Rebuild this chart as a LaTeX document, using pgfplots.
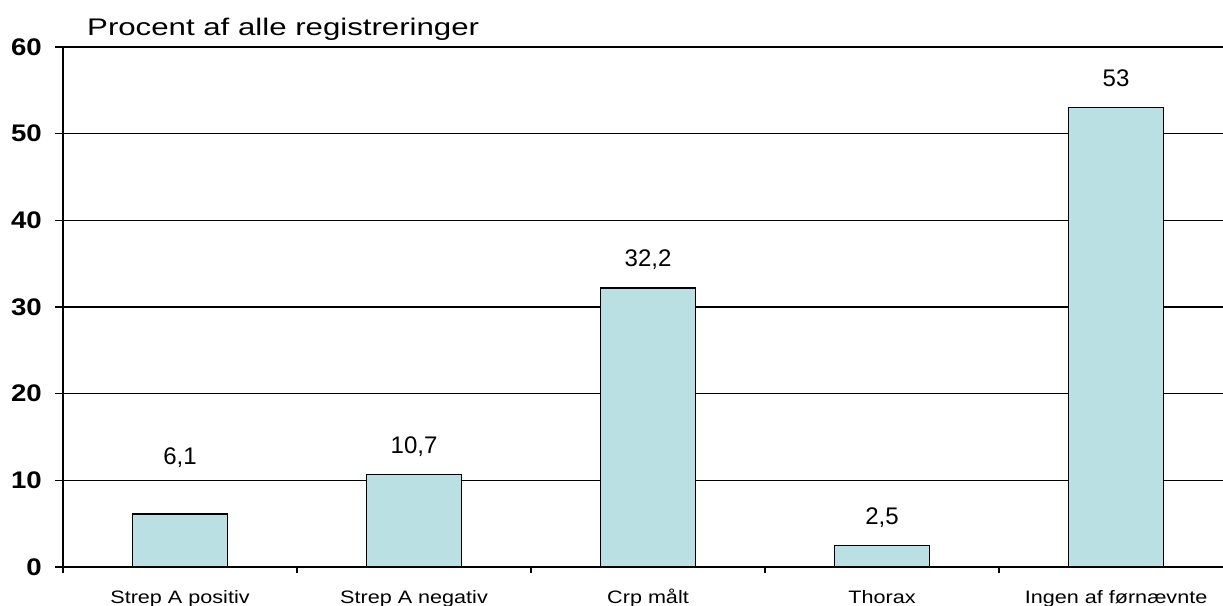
\documentclass[border=0pt]{standalone}
\usepackage{pgfplots}
\pgfplotsset{compat=1.18}
\usepackage{pgfplotstable}
\usepackage{graphicx}
\usepackage{fontspec}
\setmainfont{Liberation Sans}
\definecolor{barfill}{HTML}{BBE0E3}

\pgfplotstableread{
x y lab
0 6.1 {6,1}
1 10.7 {10,7}
2 32.2 {32,2}
3 2.5 {2,5}
4 53 {53}
}\datatable

\begin{document}
\begin{tikzpicture}
\path[use as bounding box] (-63pt,-38pt) rectangle (1160pt,567pt);
\begin{axis}[
  at={(0pt,0pt)}, anchor=south west,
  scale only axis, width=1160pt, height=520pt,
  xmin=-0.5, xmax=4.457, ymin=0, ymax=60,
  ytick={0,10,...,60},
  ymajorgrids, grid style={black, line width=1.4pt},
  axis x line*=bottom, axis y line*=left,
  axis line style={black, line width=1.6pt, -},
  tick align=outside,
  major tick length=8pt,
  ytick style={black, line width=1.4pt},
  xtick={0,...,4},
  xticklabels={
    {\scalebox{1.2}[1]{Strep A positiv}},
    {\scalebox{1.2}[1]{Strep A negativ}},
    {\scalebox{1.2}[1]{Crp målt}},
    {\scalebox{1.2}[1]{Thorax}},
    {\scalebox{1.2}[1]{Ingen af førnævnte}}},
  xtick style={draw=none},
  extra x ticks={-0.5,0.5,1.5,2.5,3.5},
  extra x tick labels={},
  extra x tick style={xtick style={draw=black, line width=1.4pt}, major tick length=6pt},
  xticklabel style={font=\fontsize{18}{18}\selectfont, anchor=north, inner sep=0pt,
    text height=13pt, text depth=4pt, yshift=-15pt},
  /pgf/number format/assume math mode=true,
  yticklabel={\fontsize{24}{24}\selectfont\bfseries\scalebox{1.15}[1]{\pgfmathprintnumber{\tick}}},
  yticklabel style={anchor=east, inner sep=0pt, xshift=-13pt},
  clip=false,
]
\addplot[ybar, bar width=0.406, fill=barfill, draw=black, line width=1.4pt,
  nodes near coords, point meta=explicit symbolic,
  every node near coord/.append style={anchor=base, inner sep=0pt,
    yshift=21pt, font=\fontsize{24}{24}\selectfont, text=black},
  coordinate style/.condition={\coordindex==0}{yshift=29pt}]
  table[x=x, y=y, meta=lab]{\datatable};
\node[anchor=base west, inner sep=0pt, font=\fontsize{24}{24}\selectfont]
  at ([xshift=24pt,yshift=12pt]rel axis cs:0,1) {\scalebox{1.3}[1]{Procent af alle registreringer}};
\end{axis}
\end{tikzpicture}
\end{document}
